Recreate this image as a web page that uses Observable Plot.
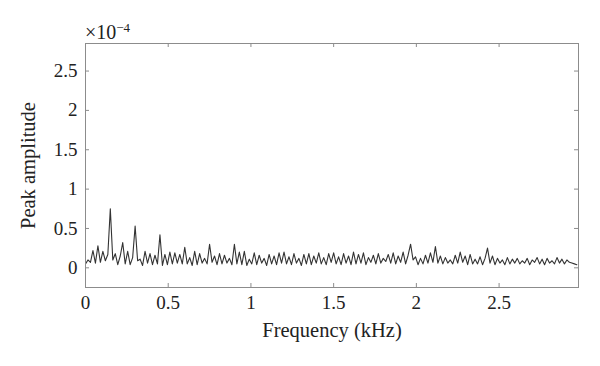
<!DOCTYPE html>
<html><head><meta charset="utf-8">
<script src="https://cdn.jsdelivr.net/npm/d3@7"></script>
<script src="https://cdn.jsdelivr.net/npm/@observablehq/plot@0.6"></script>
<style>body{margin:0;background:#fff}</style>
</head><body><div id="chart"></div>
<script>
// Frequency grid step (kHz) and peak amplitudes (×10^-4)
const freqStep = 0.015;
const amplitude = [
0.05,0.10,0.07,0.22,0.06,0.28,0.07,0.21,0.09,0.17,
0.75,0.10,0.18,0.04,0.15,0.32,0.05,0.21,0.04,0.13,
0.53,0.09,0.11,0.03,0.21,0.06,0.18,0.04,0.16,0.05,
0.42,0.03,0.17,0.04,0.20,0.05,0.19,0.06,0.17,0.05,
0.26,0.05,0.13,0.03,0.21,0.04,0.18,0.06,0.12,0.05,
0.30,0.07,0.15,0.04,0.18,0.05,0.16,0.06,0.12,0.04,
0.30,0.05,0.20,0.04,0.21,0.03,0.11,0.05,0.19,0.04,
0.16,0.06,0.12,0.03,0.17,0.05,0.15,0.04,0.19,0.06,
0.20,0.05,0.14,0.04,0.18,0.06,0.12,0.03,0.17,0.05,
0.18,0.04,0.15,0.06,0.19,0.05,0.13,0.04,0.18,0.07,
0.19,0.05,0.14,0.04,0.18,0.06,0.15,0.04,0.20,0.05,
0.17,0.06,0.19,0.04,0.13,0.07,0.16,0.05,0.18,0.06,
0.12,0.08,0.17,0.06,0.19,0.05,0.15,0.07,0.20,0.05,
0.16,0.30,0.10,0.14,0.04,0.12,0.05,0.16,0.06,0.19,
0.07,0.27,0.06,0.15,0.05,0.13,0.06,0.10,0.05,0.16,
0.06,0.20,0.07,0.15,0.04,0.17,0.05,0.11,0.05,0.14,
0.04,0.12,0.25,0.06,0.15,0.04,0.12,0.06,0.10,0.04,
0.13,0.05,0.11,0.06,0.12,0.05,0.09,0.06,0.12,0.04,
0.10,0.07,0.13,0.05,0.11,0.04,0.12,0.06,0.09,0.05,
0.13,0.06,0.11,0.05,0.10,0.07,0.06,0.05,0.04
];
const xTicks = [0, 0.5, 1, 1.5, 2, 2.5];
const yTicks = [0, 0.5, 1, 1.5, 2, 2.5];
const xLabel = "Frequency (kHz)";
const yLabel = "Peak amplitude";

const data = amplitude.map((a, i) => ({f: i * freqStep, a}));

const W = 600, H = 366, mt = 43, mb = 79, ml = 85, mr = 22;
const innerH = H - mt - mb, innerW = W - ml - mr;
const grey = "#8c8c8c";
const serif = "'Liberation Serif', serif";
const fmt = d => String(d);

const chart = Plot.plot({
  width: W, height: H,
  marginTop: mt, marginBottom: mb, marginLeft: ml, marginRight: mr,
  style: {fontFamily: serif, fontSize: "16px", background: "#fff", color: "#222"},
  x: {domain: [0, 2.98]},
  y: {domain: [-0.25, 2.85]},
  marks: [
    Plot.line(data, {x: "f", y: "a", stroke: "#333", strokeWidth: 1.1}),
    Plot.frame({stroke: grey}),
    Plot.tickX(xTicks, {x: d => d, insetTop: innerH - 4, stroke: grey}),
    Plot.tickX(xTicks, {x: d => d, insetBottom: innerH - 4, stroke: grey}),
    Plot.tickY(yTicks, {y: d => d, insetRight: innerW - 4, stroke: grey}),
    Plot.tickY(yTicks, {y: d => d, insetLeft: innerW - 4, stroke: grey}),
    Plot.axisX(xTicks, {tickSize: 0, tickPadding: 8, tickFormat: fmt, label: null, fontSize: 19, fontFamily: serif, fill: "#222"}),
    Plot.axisY(yTicks, {tickSize: 0, tickPadding: 8, tickFormat: fmt, label: null, fontSize: 19, fontFamily: serif, fill: "#222"}),
    Plot.text([yLabel], {text: d => d, frameAnchor: "left", textAnchor: "middle", rotate: -90, dx: -57, fontSize: 20.5, fontFamily: serif, fill: "#222"}),
    Plot.text([xLabel], {text: d => d, frameAnchor: "bottom", textAnchor: "middle", dy: 49, fontSize: 20.5, fontFamily: serif, fill: "#222"})
  ]
});
document.getElementById("chart").appendChild(chart);

// Exponent multiplier above the axis
const svg = d3.select(chart);
const t = svg.append("text")
  .attr("x", ml).attr("y", mt - 4)
  .attr("text-anchor", "start")
  .style("font-family", serif)
  .style("font-size", "20px").attr("fill", "#222");
t.append("tspan").text("×10");
t.append("tspan").attr("dy", -7).style("font-size", "13px").text("−4");
</script>
</body></html>
